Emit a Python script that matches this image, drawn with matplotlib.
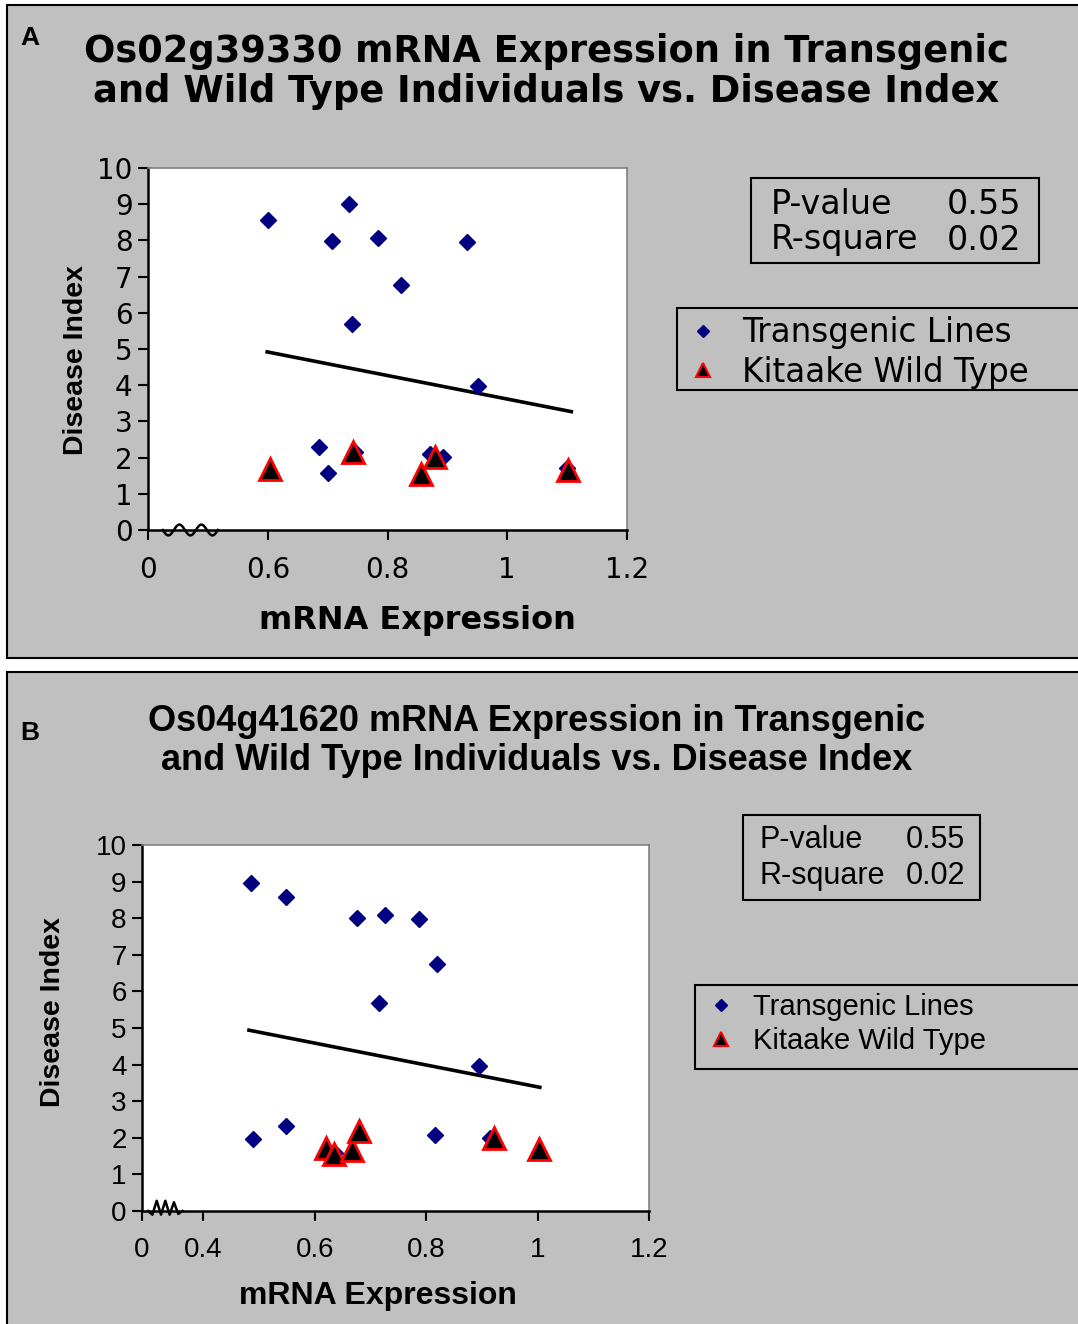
import matplotlib.pyplot as plt
import numpy as np
from matplotlib.patches import Rectangle
from matplotlib.lines import Line2D

W, H = 1078, 1324

# ---- panel A data (Os02g39330) ----
a_tg_x = [0.601, 0.736, 0.707, 0.784, 0.933, 0.823, 0.741, 0.951, 0.685, 0.701, 0.871, 0.893, 0.745, 1.100]
a_tg_y = [8.57, 9.01, 7.98, 8.07, 7.96, 6.77, 5.69, 3.98, 2.30, 1.57, 2.09, 2.01, 2.15, 1.70]
a_wt_x = [0.604, 0.742, 0.856, 0.879, 1.102]
a_wt_y = [1.69, 2.15, 1.55, 2.01, 1.67]
a_trend_x = [0.599, 1.107]
a_trend_y = [4.92, 3.27]
a_xticks = [0.4, 0.6, 0.8, 1.0, 1.2]
a_xticklabels = ["0", "0.6", "0.8", "1", "1.2"]

# ---- panel B data (Os04g41620) ----
b_tg_x = [0.485, 0.549, 0.675, 0.727, 0.788, 0.820, 0.716, 0.895, 0.489, 0.549, 0.816, 0.637, 0.915]
b_tg_y = [8.97, 8.58, 8.00, 8.09, 7.99, 6.76, 5.68, 3.97, 1.97, 2.31, 2.09, 1.59, 2.00]
b_wt_x = [0.621, 0.634, 0.667, 0.679, 0.921, 1.002]
b_wt_y = [1.73, 1.56, 1.68, 2.18, 1.99, 1.70]
b_trend_x = [0.482, 1.004]
b_trend_y = [4.94, 3.38]
b_xticks = [0.290, 0.4, 0.6, 0.8, 1.0, 1.2]
b_xticklabels = ["0", "0.4", "0.6", "0.8", "1", "1.2"]

yticks = list(range(0, 11))
stats_labels = ["P-value", "R-square"]
stats_values = ["0.55", "0.02"]
legend_labels = ["Transgenic Lines", "Kitaake Wild Type"]

GREY = "#c0c0c0"
NAVY = "#000080"


def fx(px):
    return px / W


def fy(py):
    return 1 - py / H


def box(x0, y0, x1, y1, lw=1.5, fc=GREY, z=1):
    r = Rectangle((fx(x0), fy(y1)), (x1 - x0) / W, (y1 - y0) / H,
                  transform=fig.transFigure, facecolor=fc, edgecolor="black",
                  linewidth=lw, zorder=z)
    fig.add_artist(r)


def draw_panel(letter, letter_y, title, title_x, title_y, font, title_size,
               ax_box, xlim, xticks, xticklabels, tick_size,
               tg_x, tg_y, wt_x, wt_y, tr_x, tr_y,
               xlabel_xy, xlabel_font, xlabel_size, ylabel_xy,
               zig_x, zig_y, stats_box, stats_cols, stats_rows, stats_size,
               leg_box, leg_size, leg_pad):
    fig.text(fx(30), fy(letter_y), letter, fontsize=19, fontweight="bold",
             family="Liberation Sans", ha="center", va="center")
    for line, ty in zip(title, title_y):
        fig.text(fx(title_x), fy(ty), line, fontsize=title_size,
                 fontweight="bold", family=font, ha="center", va="center")

    l, t, r, b = ax_box
    ax = fig.add_axes([fx(l), fy(b), (r - l) / W, (b - t) / H])
    ax.set_facecolor("white")
    ax.plot(tr_x, tr_y, color="black", linewidth=2.6, zorder=2)
    ax.plot(tg_x, tg_y, linestyle="none", marker="D", markersize=8,
            color=NAVY, markeredgecolor=NAVY, zorder=3)
    ax.plot(wt_x, wt_y, linestyle="none", marker="^", markersize=16,
            color="black", markeredgecolor="red", markeredgewidth=2, zorder=4)
    ax.set_xlim(*xlim)
    ax.set_ylim(0, 10)
    ax.set_yticks(yticks)
    ax.set_yticklabels([str(v) for v in yticks], family=font)
    ax.set_xticks(xticks)
    ax.set_xticklabels(xticklabels, family=font)
    ax.tick_params(axis="both", direction="out", length=7, width=1.5,
                   labelsize=tick_size)
    ax.tick_params(axis="x", pad=12)
    ax.tick_params(axis="y", pad=4)
    for s in ("left", "bottom"):
        ax.spines[s].set_linewidth(1.8)
        ax.spines[s].set_color("black")
    for s in ("top", "right"):
        ax.spines[s].set_linewidth(1.2)
        ax.spines[s].set_color("#808080")
    # axis break mark
    ax.plot(zig_x, zig_y, color="black", linewidth=1.8,
            transform=ax.transAxes, clip_on=False, zorder=5)

    fig.text(fx(xlabel_xy[0]), fy(xlabel_xy[1]), "mRNA Expression",
             fontsize=xlabel_size, fontweight="bold", family=xlabel_font,
             ha="center", va="center")
    fig.text(fx(ylabel_xy[0]), fy(ylabel_xy[1]), "Disease Index", fontsize=20.5,
             fontweight="bold", family="Liberation Sans", rotation=90,
             ha="center", va="center")

    # statistics box
    box(*stats_box)
    for lab, val, ry in zip(stats_labels, stats_values, stats_rows):
        fig.text(fx(stats_cols[0]), fy(ry), lab, fontsize=stats_size,
                 family=font, ha="left", va="center")
        fig.text(fx(stats_cols[1]), fy(ry), val, fontsize=stats_size,
                 family=font, ha="right", va="center")

    # legend
    box(*leg_box)
    handles = [
        Line2D([], [], linestyle="none", marker="D", markersize=6.5,
               color=NAVY),
        Line2D([], [], linestyle="none", marker="^", markersize=10,
               color="black", markeredgecolor="red", markeredgewidth=1.5),
    ]
    fig.legend(handles, legend_labels, loc="upper left",
               bbox_to_anchor=(fx(leg_box[0] + leg_pad[0]), fy(leg_box[1] + leg_pad[1])),
               frameon=False, prop={"family": font, "size": leg_size},
               handlelength=1.0, handletextpad=leg_pad[2], borderpad=0,
               labelspacing=0.2, borderaxespad=0)
    return ax


fig = plt.figure(figsize=(W / 100, H / 100), dpi=100)
fig.patch.set_facecolor("white")

# panel backgrounds
box(7, 5, 1082, 658, z=-10)
box(7, 672, 1082, 1330, z=-10)

zig_t = np.linspace(0, 1, 60)
draw_panel("A", 38,
           ["Os02g39330 mRNA Expression in Transgenic",
            "and Wild Type Individuals vs. Disease Index"],
           546, [51, 91], "DejaVu Sans", 26.5,
           (148, 168, 627, 530), (0.4, 1.2), a_xticks, a_xticklabels, 20,
           a_tg_x, a_tg_y, a_wt_x, a_wt_y, a_trend_x, a_trend_y,
           (417, 620), "DejaVu Sans", 23, (76, 360),
           0.031 + zig_t * 0.115, -0.015 * np.sin(2 * np.pi * 2.5 * zig_t),
           (751, 178, 1039, 263), (771, 1021), (204, 240), 24,
           (677, 308, 1080, 390), 23.5, (10, 8, 0.7))

zig_x = np.linspace(0.012, 0.08, 9)
zig_y = np.array([0, -0.01, 0.028, -0.01, 0.028, -0.01, 0.024, -0.008, 0])
draw_panel("B", 733,
           ["Os04g41620 mRNA Expression in Transgenic",
            "and Wild Type Individuals vs. Disease Index"],
           537, [721, 761], "Liberation Sans", 26,
           (142, 845, 649, 1211), (0.290, 1.2), b_xticks, b_xticklabels, 20,
           b_tg_x, b_tg_y, b_wt_x, b_wt_y, b_trend_x, b_trend_y,
           (378, 1296), "Liberation Sans", 23, (53, 1012),
           zig_x, zig_y,
           (743, 815, 980, 900), (760, 965), (840, 876), 22,
           (695, 985, 1080, 1069), 21, (11, 8, 0.6))

fig.savefig("out.png", dpi=100, facecolor=fig.get_facecolor())
